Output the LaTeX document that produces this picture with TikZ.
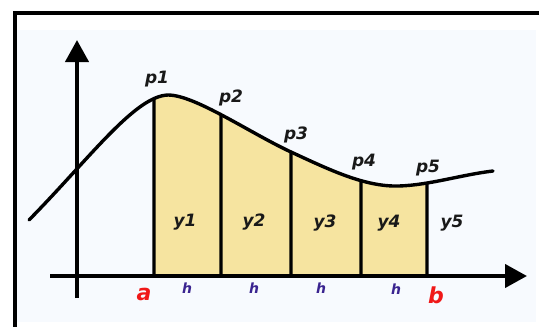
\documentclass[tikz,border=0pt]{standalone}
\usepackage{fontspec}
\setmainfont{DejaVu Sans}
\usetikzlibrary{arrows.meta,intersections}
\definecolor{panel}{HTML}{F7FAFE}
\definecolor{area}{HTML}{F6E4A0}
\definecolor{hcol}{HTML}{3A2490}
\definecolor{abcol}{HTML}{F01818}
\tikzset{
  lbl/.style={font=\fontsize{17}{17}\selectfont\bfseries\itshape, text=black!90, inner sep=0pt},
  hlbl/.style={font=\fontsize{14}{14}\selectfont\bfseries\itshape, text=hcol, inner sep=0pt},
  ablbl/.style={font=\fontsize{22}{22}\selectfont\bfseries\itshape, text=abcol, inner sep=0pt},
  axis/.style={line width=4.2pt, -{Triangle[length=22pt,width=23pt]}},
  curve/.style={line width=3.4pt, line cap=round},
  ord/.style={line width=3.2pt},
}
\begin{document}
\begin{tikzpicture}[x=1pt,y=-1pt]
\useasboundingbox (0,0) rectangle (539,327);
\begin{scope}
\clip (0,0) rectangle (539,327);
\fill[white] (0,0) rectangle (539,327);
\fill[panel] (17,30) rectangle (536,322);
\draw[line width=4.5pt] (15,340) -- (15,13) -- (560,13);
\end{scope}
\def\curvepath{(29,220) .. controls (90,158) and (135,96) .. (168,95)
  .. controls (195,95) and (250,133) .. (291,152)
  .. controls (330,170) and (365,187) .. (399,186)
  .. controls (430,185) and (460,175) .. (493,171)}
\path[name path=crv] \curvepath;
\foreach \i/\x in {1/154,2/221,3/291,4/361,5/427}{
  \coordinate (q\i) at (\x,276);
  \path[name path=v\i] (\x,300) -- (\x,0);
  \path[name intersections={of=crv and v\i, by={p\i}}];
}
\begin{scope}
\clip (q1) rectangle (427,0);
\fill[area] \curvepath -- (493,276) -- (29,276) -- cycle;
\end{scope}
\draw[curve] \curvepath;
\foreach \i in {1,...,5}{\draw[ord] (q\i) -- (p\i);}
\coordinate (xs) at (50,276);
\coordinate (xe) at (527,276);
\coordinate (ys) at (77,298);
\coordinate (ye) at (77,40);
\draw[axis] (xs) -- (xe);
\draw[axis] (ys) -- (ye);
\node[lbl] (lp1) at (157,79) {p1};
\node[lbl] (lp2) at (231,98) {p2};
\node[lbl] (lp3) at (296,135) {p3};
\node[lbl] (lp4) at (364,162) {p4};
\node[lbl] (lp5) at (428,168) {p5};
\node[lbl] (ly1) at (185,222) {y1};
\node[lbl] (ly2) at (254,222) {y2};
\node[lbl] (ly3) at (325,223) {y3};
\node[lbl] (ly4) at (389,223) {y4};
\node[lbl] (ly5) at (452,223) {y5};
\node[hlbl] (h1) at (187,288) {h};
\node[hlbl] (h2) at (254,288) {h};
\node[hlbl] (h3) at (321,288) {h};
\node[hlbl] (h4) at (396,289) {h};
\node[ablbl] (la) at (144,294) {a};
\node[ablbl] (lb) at (436,295) {b};
\end{tikzpicture}
\end{document}
